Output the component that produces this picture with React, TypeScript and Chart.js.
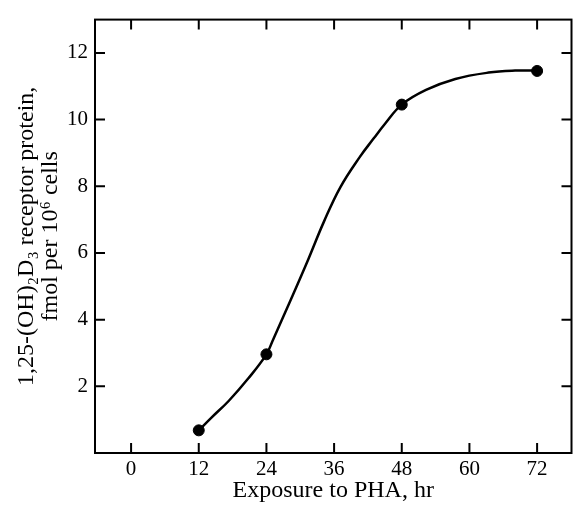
import React, { useEffect, useRef } from "react";
import { Chart, registerables } from "chart.js";

Chart.register(...registerables);

// Measured points
const hours = [12, 24, 48, 72];
const receptor = [0.68, 2.96, 10.45, 11.46];

// Fitted curve
const curveHours = [12, 14.3, 17.3, 20.8, 24, 25.1, 28.3, 31.3, 34.2, 37.1, 40.6, 43.0, 45.0, 48, 52.3, 57.5, 63.4, 68.1, 72];
const curveValues = [0.68, 1.07, 1.56, 2.24, 2.96, 3.37, 4.59, 5.76, 6.94, 7.97, 8.89, 9.43, 9.87, 10.45, 10.89, 11.22, 11.41, 11.47, 11.47];

const xTicks = [0, 12, 24, 36, 48, 60, 72];
const yTicks = [2, 4, 6, 8, 10, 12];

const xTitle = "Exposure to PHA, hr";
const yTitle = ["1,25-(OH)\u2082D\u2083 receptor protein,", "fmol per 10\u2076 cells"];

const FONT = '"Liberation Serif", "Times New Roman", serif';

const framePlugin = {
  id: "frameTicks",
  afterDraw(chart: any) {
    const { ctx, chartArea, scales } = chart;
    const { left, right, top, bottom } = chartArea;
    const x = scales.x;
    const y = scales.y;
    ctx.save();
    ctx.strokeStyle = "#000";
    ctx.lineWidth = 2;
    ctx.strokeRect(left, top, right - left, bottom - top);
    const len = 10;
    ctx.beginPath();
    xTicks.forEach((v) => {
      const px = x.getPixelForValue(v);
      ctx.moveTo(px, bottom);
      ctx.lineTo(px, bottom - len);
      ctx.moveTo(px, top);
      ctx.lineTo(px, top + len);
    });
    yTicks.forEach((v) => {
      const py = y.getPixelForValue(v);
      ctx.moveTo(left, py);
      ctx.lineTo(left + len, py);
      ctx.moveTo(right, py);
      ctx.lineTo(right - len, py);
    });
    ctx.stroke();
    ctx.restore();
  },
};

export default function App() {
  const ref = useRef<HTMLCanvasElement>(null);
  useEffect(() => {
    if (!ref.current) return;
    const chart = new Chart(ref.current, {
      type: "scatter",
      data: {
        datasets: [
          {
            data: curveHours.map((h, i) => ({ x: h, y: curveValues[i] })),
            showLine: true,
            borderColor: "#000",
            borderWidth: 2.5,
            pointRadius: 0,
            tension: 0.4,
          } as any,
          {
            data: hours.map((h, i) => ({ x: h, y: receptor[i] })),
            backgroundColor: "#000",
            borderColor: "#000",
            pointRadius: 5.5,
            pointHoverRadius: 5.5,
          },
        ],
      },
      options: {
        responsive: false,
        animation: false,
        layout: { padding: { left: 0, top: 10, right: 1, bottom: 0 } },
        plugins: { legend: { display: false }, tooltip: { enabled: false } },
        scales: {
          x: {
            type: "linear",
            min: -6.4,
            max: 78.1,
            afterBuildTicks: (s: any) => {
              s.ticks = xTicks.map((v) => ({ value: v }));
            },
            afterFit: (s: any) => {
              s.height = 53;
            },
            grid: { display: false, drawTicks: false },
            border: { display: false },
            ticks: {
              color: "#000",
              padding: 4,
              maxRotation: 0,
              autoSkip: false,
              font: { family: FONT, size: 21 },
            },
            title: {
              display: true,
              text: xTitle,
              color: "#000",
              font: { family: FONT, size: 24 },
              padding: { top: 0, bottom: 1 },
            },
          },
          y: {
            type: "linear",
            min: 0,
            max: 13,
            afterBuildTicks: (s: any) => {
              s.ticks = yTicks.map((v) => ({ value: v }));
            },
            afterFit: (s: any) => {
              s.width = 95;
            },
            grid: { display: false, drawTicks: false },
            border: { display: false },
            ticks: {
              color: "#000",
              padding: 7,
              font: { family: FONT, size: 21 },
            },
            title: {
              display: true,
              text: yTitle,
              color: "#000",
              font: { family: FONT, size: 24, lineHeight: 1.0 },
              padding: { top: 15, bottom: 0 },
            },
          },
        },
      },
      plugins: [framePlugin],
    });
    return () => chart.destroy();
  }, []);
  return (
    <div style={{ position: "absolute", left: 0, top: 0, width: 578, height: 506, background: "#fff" }}>
      <canvas ref={ref} width={578} height={506} />
    </div>
  );
}
